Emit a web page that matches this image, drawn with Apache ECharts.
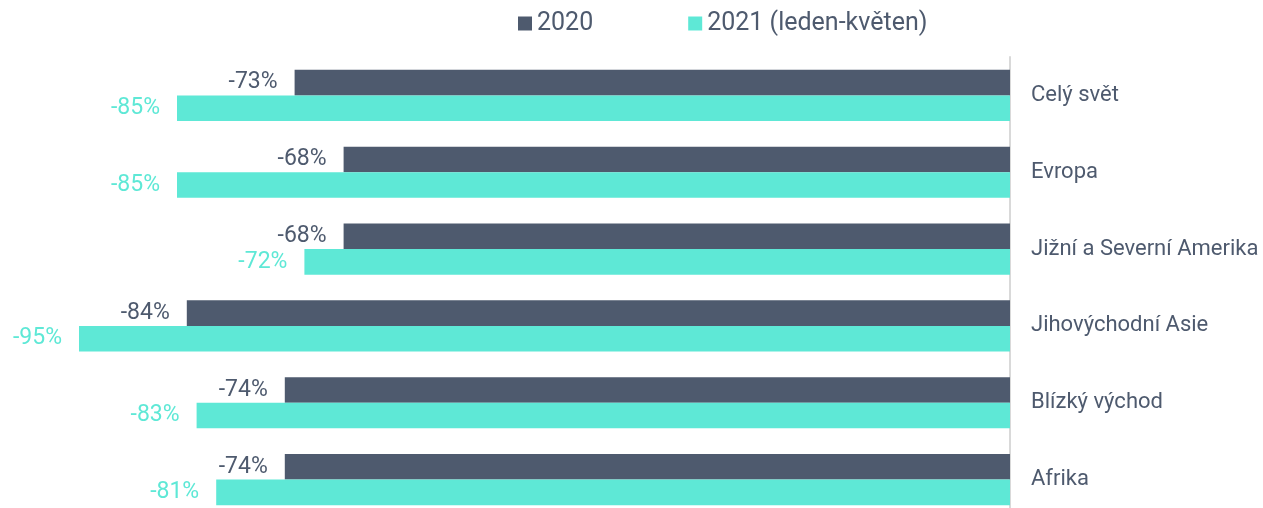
<!DOCTYPE html>
<html>
<head>
<meta charset="utf-8">
<script src="https://cdn.jsdelivr.net/npm/echarts@6/dist/echarts.min.js"></script>
<style>
  html, body { margin: 0; padding: 0; background: #fff; }
  #chart { width: 1263px; height: 508px; }
</style>
</head>
<body>
<div id="chart"></div>
<script>
// regiony
const categories = ['Celý svět', 'Evropa', 'Jižní a Severní Amerika', 'Jihovýchodní Asie', 'Blízký východ', 'Afrika'];
const seriesNames = ['2020', '2021 (leden-květen)'];
// změna v %
const values2020 = [-73, -68, -68, -84, -74, -74];
const values2021 = [-85, -85, -72, -95, -83, -81];

const dark = '#4e5a6e';
const teal = '#5ee8d6';
const font = 'Roboto, "Liberation Sans", sans-serif';

const chart = echarts.init(document.getElementById('chart'));

const option = {
  animation: false,
  textStyle: { fontFamily: font },
  legend: {
    top: 6,
    left: 513,
    itemWidth: 14,
    itemHeight: 14,
    itemGap: 95,
    icon: 'rect',
    textStyle: { color: dark, fontSize: 25, fontFamily: font },
    data: seriesNames
  },
  grid: {
    left: 30,
    width: 980,
    top: 57,
    height: 461,
    containLabel: false,
    outerBoundsMode: 'none'
  },
  xAxis: {
    type: 'value',
    min: -100,
    max: 0,
    show: false
  },
  yAxis: {
    type: 'category',
    position: 'right',
    inverse: true,
    data: categories,
    axisLine: { show: true, lineStyle: { color: '#d9d9d9', width: 2 } },
    axisTick: { show: false },
    axisLabel: { color: dark, fontSize: 22, margin: 21, fontFamily: font }
  },
  series: [
    {
      name: seriesNames[0],
      type: 'bar',
      data: values2020,
      barGap: '0%',
      barCategoryGap: '33.3%',
      itemStyle: { color: dark },
      label: {
        show: true,
        position: 'left',
        distance: 17,
        formatter: '{c}%',
        color: dark,
        fontSize: 23,
        fontFamily: font
      }
    },
    {
      name: seriesNames[1],
      type: 'bar',
      data: values2021,
      barGap: '0%',
      barCategoryGap: '33.3%',
      itemStyle: { color: teal },
      label: {
        show: true,
        position: 'left',
        distance: 17,
        formatter: '{c}%',
        color: teal,
        fontSize: 23,
        fontFamily: font
      }
    }
  ]
};

chart.setOption(option);
window.addEventListener('resize', function () {
  chart.resize();
});
</script>
</body>
</html>
